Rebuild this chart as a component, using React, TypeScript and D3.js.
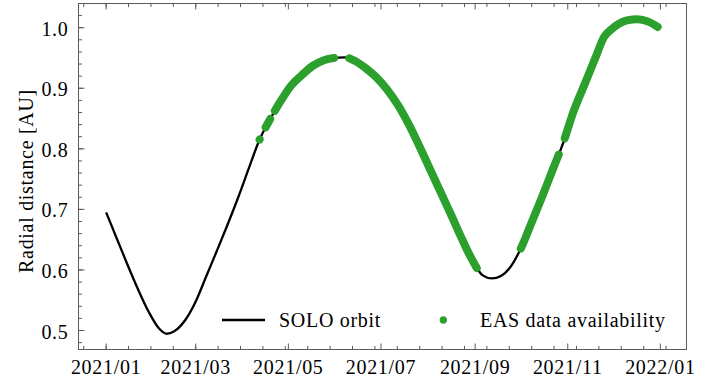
import React, { useEffect, useRef, useState } from "react";
import * as d3 from "d3";

// SOLO orbit: radial distance
const orbitDates = [
  "2021-01-01", "2021-01-08", "2021-01-15", "2021-01-22", "2021-01-29",
  "2021-02-05", "2021-02-10", "2021-02-15", "2021-02-22",
  "2021-03-01", "2021-03-08", "2021-03-15", "2021-03-22", "2021-03-29",
  "2021-04-05", "2021-04-12", "2021-04-19", "2021-04-26",
  "2021-05-03", "2021-05-10", "2021-05-17", "2021-05-24", "2021-05-31",
  "2021-06-07", "2021-06-14", "2021-06-21", "2021-06-28",
  "2021-07-05", "2021-07-12", "2021-07-19", "2021-07-26",
  "2021-08-02", "2021-08-09", "2021-08-16", "2021-08-23", "2021-08-30",
  "2021-09-06", "2021-09-12", "2021-09-18", "2021-09-24",
  "2021-10-01", "2021-10-08", "2021-10-15", "2021-10-22", "2021-10-29",
  "2021-11-05", "2021-11-12", "2021-11-19", "2021-11-25", "2021-11-30",
  "2021-12-05", "2021-12-10", "2021-12-17", "2021-12-24", "2021-12-31",
];
const orbitR = [
  0.695, 0.652, 0.609, 0.568, 0.531,
  0.503, 0.4946, 0.499, 0.517,
  0.548, 0.59, 0.632, 0.675, 0.72,
  0.768, 0.815, 0.849, 0.879,
  0.905, 0.922, 0.937, 0.946, 0.95,
  0.951, 0.945, 0.933, 0.918,
  0.898, 0.873, 0.842, 0.806,
  0.768, 0.73, 0.692, 0.653, 0.617,
  0.591, 0.586, 0.59, 0.604,
  0.635, 0.677, 0.72, 0.765, 0.81,
  0.863, 0.906, 0.949, 0.985, 0.998,
  1.007, 1.012, 1.014, 1.01, 1.0,
];

// EAS data availability periods
const easStart = ["2021-04-12", "2021-04-16", "2021-04-22", "2021-06-10", "2021-10-01", "2021-10-30"];
const easEnd = ["2021-04-12", "2021-04-19", "2021-05-31", "2021-09-02", "2021-10-26", "2021-12-30"];

const xTickDates = ["2021-01-01", "2021-03-01", "2021-05-01", "2021-07-01", "2021-09-01", "2021-11-01", "2022-01-01"];
const yTicks = [0.5, 0.6, 0.7, 0.8, 0.9, 1.0];

const W = 713;
const H = 382;
const left = 78.5, right = 686.5, top = 3.5, bottom = 349.5;
const axisColor = "#5a5a5a";
const green = "#2ca02c";
const serif = "'Liberation Serif', 'Times New Roman', Times, Tinos, 'DejaVu Serif', 'Noto Serif', serif";

const parse = d3.utcParse("%Y-%m-%d");

export default function App() {
  const orbitRef = useRef<SVGPathElement>(null);
  const [dash, setDash] = useState<{ array: string; offset: number } | null>(null);

  const dates = orbitDates.map((s) => parse(s) as Date);
  const t0 = dates[0].getTime();
  const t1 = dates[dates.length - 1].getTime();
  const padT = (t1 - t0) * 0.05;
  const x = d3.scaleUtc().domain([new Date(t0 - padT), new Date(t1 + padT)]).range([left, right]);

  const rMin = d3.min(orbitR) as number;
  const rMax = d3.max(orbitR) as number;
  const padR = (rMax - rMin) * 0.05;
  const y = d3.scaleLinear().domain([rMin - padR, rMax + padR]).range([bottom, top]);

  const points = dates.map((d, i) => [x(d), y(orbitR[i])] as [number, number]);
  const line = d3.line().curve(d3.curveMonotoneX);
  const orbitPath = line(points) || "";

  // minor x ticks: quarter of first major step (like matplotlib AutoMinorLocator)
  const majors = xTickDates.map((s) => parse(s) as Date);
  const step = (majors[1].getTime() - majors[0].getTime()) / 4;
  const [dMin, dMax] = x.domain().map((d) => d.getTime());
  const minorX: number[] = [];
  for (let k = Math.ceil((dMin - majors[0].getTime()) / step); majors[0].getTime() + k * step <= dMax; k++) {
    minorX.push(x(new Date(majors[0].getTime() + k * step)));
  }
  const [yLo, yHi] = y.domain();
  const minorY: number[] = [];
  for (let v = Math.ceil(yLo / 0.02) * 0.02; v <= yHi; v += 0.02) minorY.push(y(v));

  useEffect(() => {
    const node = orbitRef.current;
    if (!node) return;
    const total = node.getTotalLength();
    const lengthAtX = (px: number) => {
      let lo = 0, hi = total;
      for (let i = 0; i < 40; i++) {
        const mid = (lo + hi) / 2;
        if (node.getPointAtLength(mid).x < px) lo = mid;
        else hi = mid;
      }
      return (lo + hi) / 2;
    };
    const parts: number[] = [];
    let pos = 0;
    let first = 0;
    easStart.forEach((s, i) => {
      const a = lengthAtX(x(parse(s) as Date));
      const b = Math.max(a + 0.3, lengthAtX(x(parse(easEnd[i]) as Date)));
      if (i === 0) first = a;
      else parts.push(a - pos);
      parts.push(b - a);
      pos = b;
    });
    parts.push(total + first + 50);
    setDash({ array: parts.join(" "), offset: -first });
  }, []);

  return (
    <div style={{ position: "absolute", left: 0, top: 0 }}>
      <svg
        width={W}
        height={H}
        style={{ display: "block", fontFamily: serif, fontSize: "20px", letterSpacing: "0.7px" }}
      >
        <rect width={W} height={H} fill="#fff" />

        <path ref={orbitRef} d={orbitPath} fill="none" stroke="#000" strokeWidth={2.3} strokeLinejoin="round" />
        {dash && (
          <path
            d={orbitPath}
            fill="none"
            stroke={green}
            strokeWidth={8}
            strokeLinecap="round"
            strokeDasharray={dash.array}
            strokeDashoffset={dash.offset}
          />
        )}

        {/* frame */}
        <rect x={left} y={top} width={right - left} height={bottom - top} fill="none" stroke={axisColor} strokeWidth={1} />

        {/* x ticks, bottom and top */}
        {minorX.map((px, i) => (
          <g key={"mx" + i} stroke={axisColor}>
            <line x1={px} x2={px} y1={bottom} y2={bottom - 3.5} />
            <line x1={px} x2={px} y1={top} y2={top + 3.5} />
          </g>
        ))}
        {majors.map((d, i) => (
          <g key={"x" + i}>
            <line x1={x(d)} x2={x(d)} y1={bottom} y2={bottom - 6} stroke={axisColor} />
            <line x1={x(d)} x2={x(d)} y1={top} y2={top + 6} stroke={axisColor} />
            <text x={x(d)} y={374} textAnchor="middle" fill="#000">
              {d3.utcFormat("%Y/%m")(d)}
            </text>
          </g>
        ))}

        {/* y ticks */}
        {minorY.map((py, i) => (
          <line key={"my" + i} x1={left} x2={left + 3.5} y1={py} y2={py} stroke={axisColor} />
        ))}
        {yTicks.map((v, i) => (
          <g key={"y" + i}>
            <line x1={left} x2={left + 6} y1={y(v)} y2={y(v)} stroke={axisColor} />
            <text x={68.5} y={y(v) + 8} textAnchor="end" fill="#000">
              {d3.format(".1f")(v)}
            </text>
          </g>
        ))}

        <text transform={`translate(32.5, ${(85 + 277) / 2}) rotate(-90)`} textAnchor="middle" fill="#000">
          Radial distance [AU]
        </text>

        {/* legend */}
        <line x1={222} x2={265} y1={320} y2={320} stroke="#000" strokeWidth={2.3} />
        <text x={279} y={327} fill="#000">SOLO orbit</text>
        <circle cx={443.3} cy={320} r={3.7} fill={green} />
        <text x={480} y={327} fill="#000">EAS data availability</text>
      </svg>
    </div>
  );
}
